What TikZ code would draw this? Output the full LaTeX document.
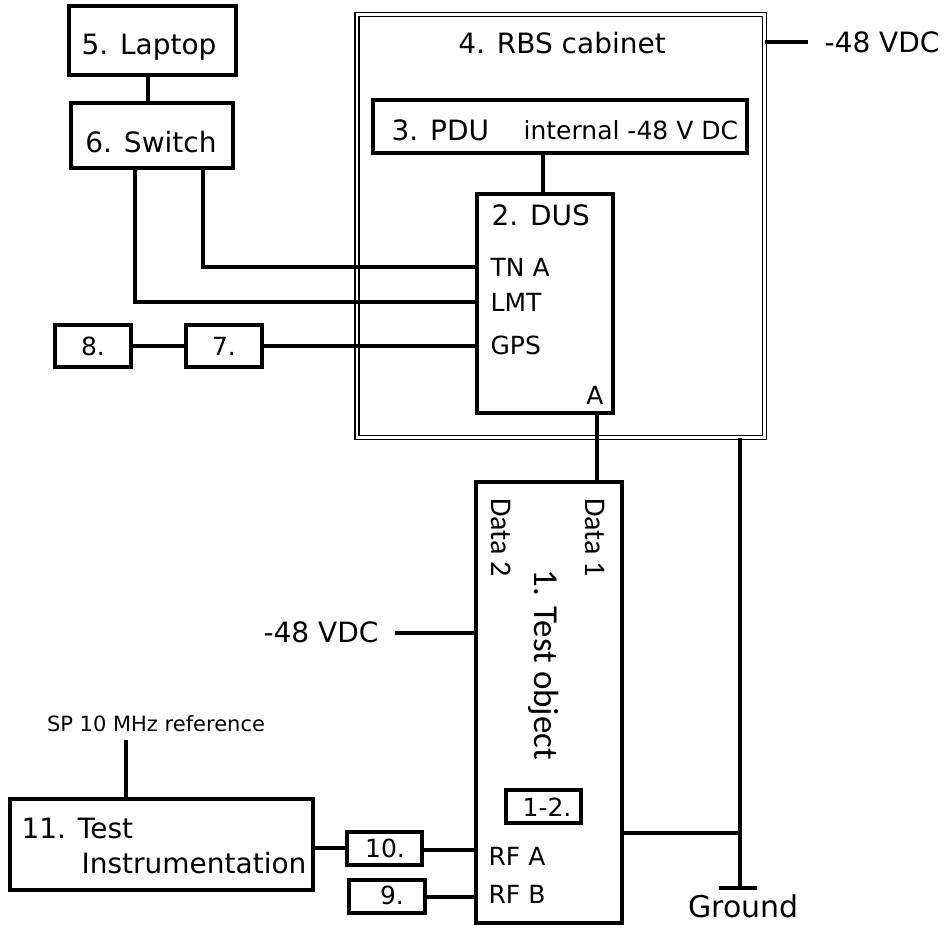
\documentclass[tikz,border=0pt]{standalone}
\usepackage{fontspec}
\setmainfont{DejaVu Sans}
\newfontfamily\calib{Carlito}
\begin{document}
\begin{tikzpicture}[x=1pt,y=-1pt,line width=3.2pt,
  box/.style={draw, rectangle, inner sep=0, line width=3.2pt},
  wire/.style={line width=3.2pt},
  bigt/.style={inner sep=0, font=\fontsize{28}{32}\selectfont, text height=20.4pt, text depth=0pt},
  midt/.style={inner sep=0, font=\fontsize{25}{30}\selectfont, text height=18.2pt, text depth=0pt},
  smallt/.style={inner sep=0, font=\fontsize{21}{25}\selectfont, text height=15.3pt, text depth=0pt},
  gndt/.style={inner sep=0, font=\fontsize{30}{34}\selectfont, text height=21.9pt, text depth=0pt},
  rott/.style={inner sep=0, rotate=-90, font=\calib\fontsize{30}{34}\selectfont, text height=19.3pt, text depth=0pt},
  rotbig/.style={inner sep=0, rotate=-90, font=\calib\fontsize{35}{40}\selectfont, text height=22.5pt, text depth=0pt}]
\useasboundingbox (0,0) rectangle (944,926);
\fill[white] (0,0) rectangle (944,926);

% boxes
\node[box, minimum width=167pt, minimum height=69pt] (lap) at (152.5,40.5) {};
\node[box, minimum width=162pt, minimum height=65pt] (sw) at (152,135.5) {};
\node[draw, rectangle, inner sep=0, line width=1.8pt, double, double distance=2.2pt,
      minimum width=407.5pt, minimum height=423pt] (cab) at (560.75,226) {};
\node[box, minimum width=374pt, minimum height=53pt] (pdu) at (560,126.5) {};
\node[box, minimum width=136pt, minimum height=219pt] (dus) at (545,303.5) {};
\node[box, minimum width=76pt, minimum height=42pt] (b8) at (93,346) {};
\node[box, minimum width=76pt, minimum height=42pt] (b7) at (224,346) {};
\node[box, minimum width=146pt, minimum height=441pt] (obj) at (549,702.5) {};
\node[box, minimum width=75pt, minimum height=33pt] (b12) at (543.5,806.5) {};
\node[box, minimum width=75pt, minimum height=33pt] (b10) at (384.5,848.5) {};
\node[box, minimum width=76pt, minimum height=33pt] (b9) at (387,896.5) {};
\node[box, minimum width=303pt, minimum height=91pt] (b11) at (161.5,844.5) {};

% texts
\node[bigt] (tlap) at (149,44) {5. Laptop};
\node[bigt] (tsw) at (151,142) {6. Switch};
\node[bigt] (tcab) at (562,43) {4. RBS cabinet};
\node[bigt, anchor=west] (tpdu) at (390,130) {3. PDU};
\node[midt, anchor=west] (tint) at (522,130) {internal -48 V DC};
\node[bigt, anchor=west] (tdus) at (490,215) {2. DUS};
\node[midt, anchor=west] (ttna) at (489,267) {TN A};
\node[midt, anchor=west] (tlmt) at (489,302.5) {LMT};
\node[midt, anchor=west] (tgps) at (489,345) {GPS};
\node[midt, anchor=east] (ta) at (605,395) {A};
\node[midt] (t8) at (93,346) {8.};
\node[midt] (t7) at (224,346) {7.};
\node[bigt, anchor=west] (tvdcr) at (823,42) {-48 VDC};
\node[rott] (td1) at (595,537.5) {Data 1};
\node[rott] (td2) at (501,537.5) {Data 2};
\node[rotbig] (tobj) at (546,665) {1. Test object};
\node[bigt] (tvdcl) at (321,632) {-48 VDC};
\node[midt] (t12) at (547,807) {1-2.};
\node[midt, anchor=west] (trfa) at (487,856.5) {RF A};
\node[midt, anchor=west] (trfb) at (487,894.5) {RF B};
\node[midt] (t10) at (385,848) {10.};
\node[midt] (t9) at (392,895) {9.};
\node[bigt, anchor=west] (t11a) at (20,828) {11. Test};
\node[bigt, anchor=west] (t11b) at (80,863) {Instrumentation};
\node[smallt] (tsp) at (156,724) {SP 10 MHz reference};
\node[gndt, anchor=west] (tgnd) at (687,907) {Ground};

% coordinates for wire routing
\coordinate (c1) at (148,0);
\coordinate (ctn) at (203,267);
\coordinate (clmt) at (135,302);
\coordinate (cpd) at (543,0);
\coordinate (ca) at (597,0);
\coordinate (cvl) at (395,633);
\coordinate (csp) at (126,740);
\coordinate (cvr) at (808,42);
\coordinate (c1110) at (0,848);
\coordinate (crfa) at (0,850);
\coordinate (crfb) at (0,897);
\coordinate (cg) at (740,833);
\coordinate (cgnd) at (740,888);
\coordinate (gl) at (719,888);
\coordinate (gr) at (757,888);

% wires
\draw[wire] (c1 |- lap.south) -- (c1 |- sw.north);
\draw[wire] (ctn |- sw.south) -- (ctn) -- (ctn -| dus.west);
\draw[wire] (clmt |- sw.south) -- (clmt) -- (clmt -| dus.west);
\draw[wire] (b8.east) -- (b7.west);
\draw[wire] (b7.east) -- (b7.east -| dus.west);
\draw[wire] (cpd |- pdu.south) -- (cpd |- dus.north);
\draw[wire] (ca |- dus.south) -- (ca |- obj.north);
\draw[wire] (cvl) -- (cvl -| obj.west);
\draw[wire] (csp) -- (csp |- b11.north);
\draw[wire] (c1110 -| b11.east) -- (c1110 -| b10.west);
\draw[wire] (crfa -| b10.east) -- (crfa -| obj.west);
\draw[wire] (crfb -| b9.east) -- (crfb -| obj.west);
\draw[wire] (cg -| obj.east) -- (cg);
\draw[wire] (cgnd |- cab.south) -- (cgnd);
\draw[wire] (gl) -- (gr);
\draw[wire] (cvr -| cab.east) -- (cvr);
\end{tikzpicture}
\end{document}
